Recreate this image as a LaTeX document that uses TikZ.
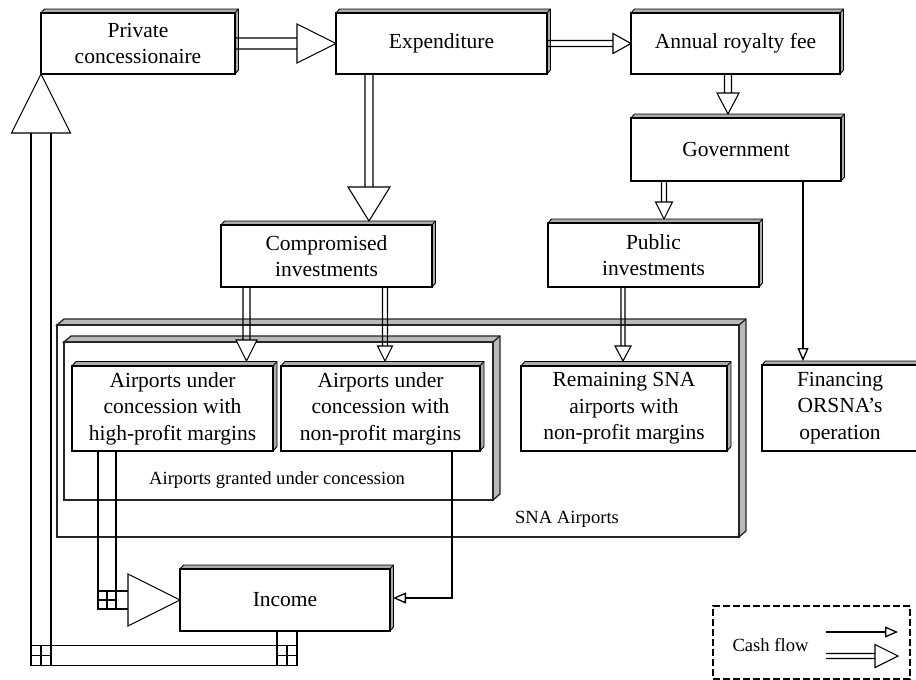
\documentclass[tikz,border=0pt]{standalone}
\usepackage{fontspec}
\setmainfont{Liberation Serif}
\usetikzlibrary{calc,arrows.meta,backgrounds}
\newcommand\mainfs{\fontsize{21.5}{26.5}\selectfont}
\newcommand\smallfs{\fontsize{18.6}{22}\selectfont}
\newcommand\bevelit[4]{%
  \begin{scope}[on background layer]
  \draw[#4] (#1.north west) -- ++(#2,-#3) -- ($(#1.north east)+(#2,-#3)$) -- ($(#1.south east)+(#2,-#3)$) -- (#1.south east) -- (#1.north east) -- cycle;
  \draw[#4] (#1.north east) -- ++(#2,-#3);
  \end{scope}}
\newcommand\rightarrowhollow[5]{%
  \draw[hollowline,fill=white] let \p1=#1, \p2=#2 in
    (\x1,\y1+#3) -- (\x2-#5,\y1+#3)
    (\x1,\y1-#3) -- (\x2-#5,\y1-#3)
    (\x2-#5,\y1+#4) -- (\x2,\y1) -- (\x2-#5,\y1-#4) -- cycle;}
\newcommand\downarrowhollow[5]{%
  \draw[hollowline,fill=white] let \p1=#1, \p2=#2 in
    (\x1-#3,\y1) -- (\x1-#3,\y2+#5)
    (\x1+#3,\y1) -- (\x1+#3,\y2+#5)
    (\x1-#4,\y2+#5) -- (\x1,\y2) -- (\x1+#4,\y2+#5) -- cycle;}
\newcommand\gridcorner[2]{%
  \draw[hollowline] ($(#1)+(-#2,-#2)$) rectangle ($(#1)+(#2,#2)$)
    ($(#1)+(0,-#2)$) -- ($(#1)+(0,#2)$) ($(#1)+(-#2,0)$) -- ($(#1)+(#2,0)$);}
\begin{document}
\begin{tikzpicture}[x=1pt,y=-1pt,
  box/.style={draw, line width=1.5pt, inner sep=0pt, outer sep=0pt, align=center, font=\mainfs},
  container/.style={draw=black!85, line width=2pt, inner sep=0pt, outer sep=0pt},
  smallbevel/.style={draw, line width=0.9pt, fill=gray!65},
  bigbevel/.style={draw=black!85, line width=1.3pt, fill=gray!55},
  hollowline/.style={line width=1.1pt},
  thinarrow/.style={line width=1.3pt, -{Triangle[open,length=13pt,width=11pt]}},
  lbl/.style={font=\smallfs, inner sep=0pt}]
\useasboundingbox (0,0) rectangle (916,680);
% containers
\node[container, minimum width=682pt, minimum height=212pt] (sna) at (398,431) {};
\node[container, minimum width=429pt, minimum height=158pt] (gr) at (278.5,421) {};
\bevelit{sna}{7}{6}{bigbevel}
\bevelit{gr}{7}{6}{bigbevel}
\node[lbl] (grl) at ($(gr.south)+(-1.5,-20)$) {Airports granted under concession};
\node[lbl] (snal) at ($(sna.south)+(169,-18)$) {SNA Airports};
% boxes
\node[box, minimum width=194pt, minimum height=61pt] (pc) at (138,43.5) {Private\\concessionaire};
\node[box, minimum width=211pt, minimum height=61pt] (ex) at (441.5,43.5) {Expenditure};
\node[box, minimum width=209pt, minimum height=61pt] (ar) at (735.5,43.5) {Annual royalty fee};
\node[box, minimum width=210pt, minimum height=63pt] (gov) at (736,149.5) {Government};
\node[box, minimum width=211pt, minimum height=62pt] (ci) at (326.5,256) {Compromised\\investments};
\node[box, minimum width=211pt, minimum height=64pt] (pi) at (653.5,255) {Public\\investments};
\node[box, minimum width=201pt, minimum height=85pt] (hp) at (172.5,408.5) {Airports under\\concession with\\high-profit margins};
\node[box, minimum width=199pt, minimum height=85pt] (np) at (380.5,408.5) {Airports under\\concession with\\non-profit margins};
\node[box, minimum width=206pt, minimum height=85pt] (rs) at (624,408.5) {Remaining SNA\\airports with\\non-profit margins};
\node[box, minimum width=156pt, minimum height=86pt] (fo) at (840,408) {Financing\\ORSNA’s\\operation};
\node[box, minimum width=210pt, minimum height=62pt] (inc) at (285,600) {Income};
\foreach \n in {pc,ex,ar,gov,ci,pi,inc,fo}{\bevelit{\n}{3.5}{4}{smallbevel}}
\foreach \n in {hp,np,rs}{\bevelit{\n}{4}{4.5}{smallbevel}}
% hollow arrows
\rightarrowhollow{(pc.east)}{(ex.west)}{5.5pt}{19.5pt}{39pt}
\rightarrowhollow{(ex.east)}{(ar.west)}{3pt}{10pt}{18pt}
\coordinate (a3) at ($(ar.south west)+(97,0)$);
\downarrowhollow{(a3)}{($(gov.north)+(0,-4)$)}{3.5pt}{11pt}{21pt}
\coordinate (a4) at ($(ex.south west)+(33,0)$);
\downarrowhollow{(a4)}{($(ci.north)+(0,-4)$)}{4pt}{21pt}{34pt}
\coordinate (a5) at ($(gov.south west)+(33,0)$);
\downarrowhollow{(a5)}{($(pi.north)+(0,-4)$)}{2.5pt}{8.5pt}{17pt}
\coordinate (a7) at ($(ci.south west)+(25.5,0)$);
\downarrowhollow{(a7)}{($(hp.north)+(0,-5)$)}{3.5pt}{10.5pt}{21pt}
\coordinate (a8) at ($(ci.south west)+(164,0)$);
\downarrowhollow{(a8)}{($(np.north)+(0,-5)$)}{2.5pt}{7.5pt}{15pt}
\coordinate (a9) at ($(pi.south west)+(75,0)$);
\downarrowhollow{(a9)}{($(rs.north)+(0,-5)$)}{2pt}{8pt}{15pt}
% thin arrows
\coordinate (a6) at ($(fo.north)+(-37,-4)$);
\draw[thinarrow] (gov.south -| a6) -- (a6);
\coordinate (a10) at ($(np.south west)+(171,0)$);
\coordinate (a11) at ($(inc.east)+(3,-2)$);
\draw[thinarrow] (a10) |- (a11);
% high-profit -> income
\coordinate (k1) at ($(hp.south west)+(35,0)$);
\coordinate (k2) at (k1 |- inc.west);
\draw[hollowline] ($(k1)+(-9,0)$) -- ($(k2)+(-9,9)$) -- ($(k2)+(21,9)$)
  ($(k1)+(9,0)$) -- ($(k2)+(9,-9)$) -- ($(k2)+(21,-9)$);
\gridcorner{k2}{9}
\draw[hollowline,fill=white] ($(k2)+(21,-26)$) -- (inc.west) -- ($(k2)+(21,26)$) -- cycle;
% income -> private concessionaire loop
\coordinate (k3) at ($(inc.south)+(2,0)$);
\coordinate (k4) at ($(k3)+(0,24.5)$);
\coordinate (k5) at (pc.south west |- k4);
\coordinate (k6) at ($(pc.south west)+(0,59)$);
\draw[hollowline] ($(k3)+(10,0)$) -- ($(k4)+(10,10)$) -- ($(k5)+(-10,10)$) -- ($(k6)+(-10,0)$)
  ($(k3)+(-10,0)$) -- ($(k4)+(-10,-10)$) -- ($(k5)+(10,-10)$) -- ($(k6)+(10,0)$);
\gridcorner{k4}{10}
\gridcorner{k5}{10}
\draw[hollowline,fill=white] ($(k6)+(-29.5,0)$) -- (pc.south west) -- ($(k6)+(29.5,0)$) -- cycle;
% legend
\node[draw, line width=1.4pt, dash pattern=on 7pt off 3pt, minimum width=197pt, minimum height=73pt, inner sep=0pt, outer sep=0pt] (lg) at (811.5,642.5) {};
\node[lbl] (cf) at ($(lg.west)+(57.5,2.5)$) {Cash flow};
\coordinate (l1a) at ($(lg.west)+(113,-10.5)$);
\coordinate (l1b) at ($(lg.east)+(-12,-10.5)$);
\coordinate (l2a) at ($(lg.west)+(113,13.5)$);
\coordinate (l2b) at ($(lg.east)+(-12,13.5)$);
\draw[thinarrow] (l1a) -- (l1b);
\rightarrowhollow{(l2a)}{(l2b)}{2.5pt}{11.5pt}{23pt}
\end{tikzpicture}
\end{document}
